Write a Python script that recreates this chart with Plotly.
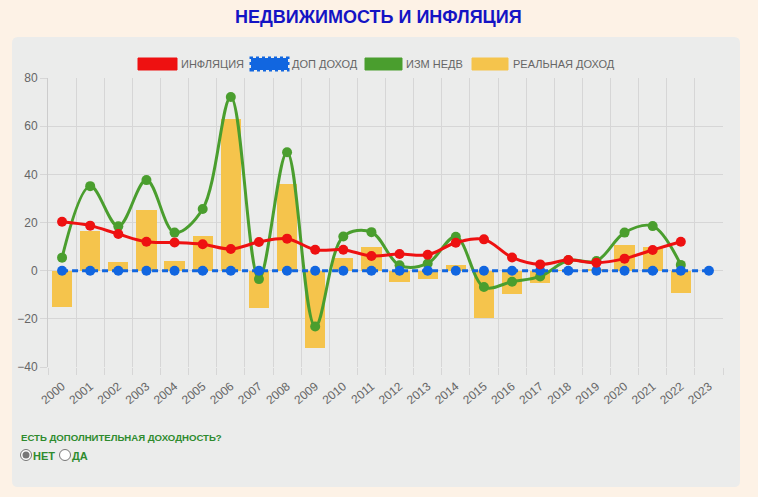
import plotly.graph_objects as go

years = list(range(2000, 2024))
year_labels = [str(y) for y in years]

inflation = [20.3, 18.7, 15.2, 12.0, 11.7, 11.0, 9.0, 11.9, 13.3, 8.7, 8.7, 6.1,
             6.9, 6.6, 11.6, 13.0, 5.5, 2.6, 4.4, 3.3, 5.0, 8.6, 12.0, None]
extra_income = [0] * 24
realty_change = [5.4, 35.1, 18.4, 37.6, 15.8, 25.6, 72.1, -3.5, 49.2, -23.2, 14.2, 16.0,
                 2.2, 3.0, 14.1, -6.8, -4.6, -2.4, 4.3, 4.0, 15.8, 18.5, 2.4, None]
real_income = [-14.9, 16.3, 3.4, 25.4, 4.1, 14.5, 62.9, -15.5, 35.8, -32.1, 5.1, 9.8,
               -4.6, -3.3, 2.4, -19.6, -9.8, -5.0, 0.2, 0.7, 10.8, 9.8, -9.4, None]

legend_names = ["ИНФЛЯЦИЯ", "ДОП ДОХОД", "ИЗМ НЕДВ", "РЕАЛЬНАЯ ДОХОД"]
title_text = "НЕДВИЖИМОСТЬ И ИНФЛЯЦИЯ"
question_text = "ЕСТЬ ДОПОЛНИТЕЛЬНАЯ ДОХОДНОСТЬ?"
radio_labels = ["НЕТ", "ДА"]

RED = "#ee1111"
BLUE = "#1166e0"
GREEN = "#4a9e2e"
YELLOW = "#f5c44c"

W, H = 758, 497
L, R, T, B = 48, 723, 78, 367


def px(x):
    return (x - L) / (R - L)


def py(y):
    return (B - y) / (B - T)


fig = go.Figure()
fig.add_trace(go.Bar(x=years, y=real_income, marker=dict(color=YELLOW, line=dict(width=0)),
                     width=0.72, name=legend_names[3], hoverinfo="skip"))
fig.add_trace(go.Scatter(x=years, y=realty_change, mode="lines+markers",
                         line=dict(color=GREEN, width=3, shape="spline", smoothing=1.0),
                         marker=dict(color=GREEN, size=10), name=legend_names[2], hoverinfo="skip"))
fig.add_trace(go.Scatter(x=years, y=extra_income, mode="lines+markers",
                         line=dict(color=BLUE, width=3, dash="6px,4px"),
                         marker=dict(color=BLUE, size=10), name=legend_names[1], hoverinfo="skip"))
fig.add_trace(go.Scatter(x=years, y=inflation, mode="lines+markers",
                         line=dict(color=RED, width=3, shape="spline", smoothing=1.0),
                         marker=dict(color=RED, size=10), name=legend_names[0], hoverinfo="skip"))

shapes = []
# panel background (rounded)
x0, x1, y0, y1 = 12, 740, 37, 487
r = 6
rx = r / (R - L)
ry = r / (B - T)
X0, X1, Y0, Y1 = px(x0), px(x1), py(y1), py(y0)
path = (f"M {X0+rx},{Y0} L {X1-rx},{Y0} Q {X1},{Y0} {X1},{Y0+ry} L {X1},{Y1-ry} "
        f"Q {X1},{Y1} {X1-rx},{Y1} L {X0+rx},{Y1} Q {X0},{Y1} {X0},{Y1-ry} "
        f"L {X0},{Y0+ry} Q {X0},{Y0} {X0+rx},{Y0} Z")
shapes.append(dict(type="path", xref="paper", yref="paper", path=path,
                   fillcolor="#ebeceb", line=dict(width=0), layer="below"))

# legend boxes
boxes = [(138, 177, RED, None), (251, 288, BLUE, "dash"), (365, 402, GREEN, None), (472, 508, YELLOW, None)]
texts_x = [179, 290, 404, 511]
for (bx0, bx1, c, d) in boxes:
    if d:
        shapes.append(dict(type="rect", xref="paper", yref="paper", x0=px(bx0), x1=px(bx1),
                           y0=py(70), y1=py(58), fillcolor=c,
                           line=dict(color=c, width=3, dash="dot")))
    else:
        shapes.append(dict(type="rect", xref="paper", yref="paper", x0=px(bx0), x1=px(bx1),
                           y0=py(70), y1=py(58), fillcolor=c, line=dict(color=c, width=1)))

annotations = []
for tx, name in zip(texts_x, legend_names):
    annotations.append(dict(x=px(tx), y=py(64), xref="paper", yref="paper", text=name,
                            showarrow=False, xanchor="left", yanchor="middle",
                            font=dict(family="Liberation Sans, Arial", size=11, color="#666666")))

annotations.append(dict(x=px(378), y=py(17), xref="paper", yref="paper", text=f"<b>{title_text}</b>",
                        showarrow=False, xanchor="center", yanchor="middle",
                        font=dict(family="Liberation Sans, Arial", size=18, color="#1414c4")))

annotations.append(dict(x=px(19), y=py(437), xref="paper", yref="paper", text=f"<b>{question_text}</b>",
                        showarrow=False, xanchor="left", yanchor="middle",
                        font=dict(family="Liberation Sans, Arial", size=9.6, color="#2e8b2e")))

# radio buttons
radio_x = [26, 65]
for i, (cx, lab) in enumerate(zip(radio_x, radio_labels)):
    shapes.append(dict(type="circle", xref="paper", yref="paper", xsizemode="pixel", ysizemode="pixel",
                       xanchor=px(cx), yanchor=py(455), x0=-5.5, x1=5.5, y0=-5.5, y1=5.5,
                       fillcolor="#ffffff", line=dict(color="#777777", width=1)))
    if i == 0:
        shapes.append(dict(type="circle", xref="paper", yref="paper", xsizemode="pixel", ysizemode="pixel",
                           xanchor=px(cx), yanchor=py(455), x0=-3.5, x1=3.5, y0=-3.5, y1=3.5,
                           fillcolor="#777777", line=dict(width=0)))
    annotations.append(dict(x=px(cx + 5), y=py(456), xref="paper", yref="paper", text=f"<b>{lab}</b>",
                            showarrow=False, xanchor="left", yanchor="middle",
                            font=dict(family="Liberation Sans, Arial", size=11, color="#2e8b2e")))

fig.update_layout(
    width=W, height=H,
    margin=dict(l=L, r=W - R, t=T, b=H - B, pad=0),
    paper_bgcolor="#fdf2e6",
    plot_bgcolor="rgba(0,0,0,0)",
    showlegend=False,
    bargap=0,
    shapes=shapes,
    annotations=annotations,
    xaxis=dict(
        range=[1999.5, 2023.5],
        tickmode="array", tickvals=years, ticktext=year_labels,
        tickangle=-40, showgrid=False, zeroline=False,
        ticks="", ticklabelstandoff=9,
        tickfont=dict(family="Liberation Sans, Arial", size=12, color="#666666"),
        showline=False,
        minor=dict(tickmode="array", tickvals=[y - 0.5 for y in years] + [2023.5],
                   showgrid=True, gridcolor="#d6d6d6", gridwidth=1,
                   ticks="outside", ticklen=7, tickcolor="#d6d6d6"),
    ),
    yaxis=dict(
        range=[-40, 80], tickvals=[-40, -20, 0, 20, 40, 60, 80],
        showgrid=True, gridcolor="#d6d6d6", gridwidth=1, zeroline=False,
        ticks="outside", ticklen=7, tickcolor="#d6d6d6",
        tickfont=dict(family="Liberation Sans, Arial", size=12, color="#666666"),
        showline=True, linecolor="#cccccc", linewidth=1,
    ),
)

fig.write_html("out.html", config={"displayModeBar": False})
